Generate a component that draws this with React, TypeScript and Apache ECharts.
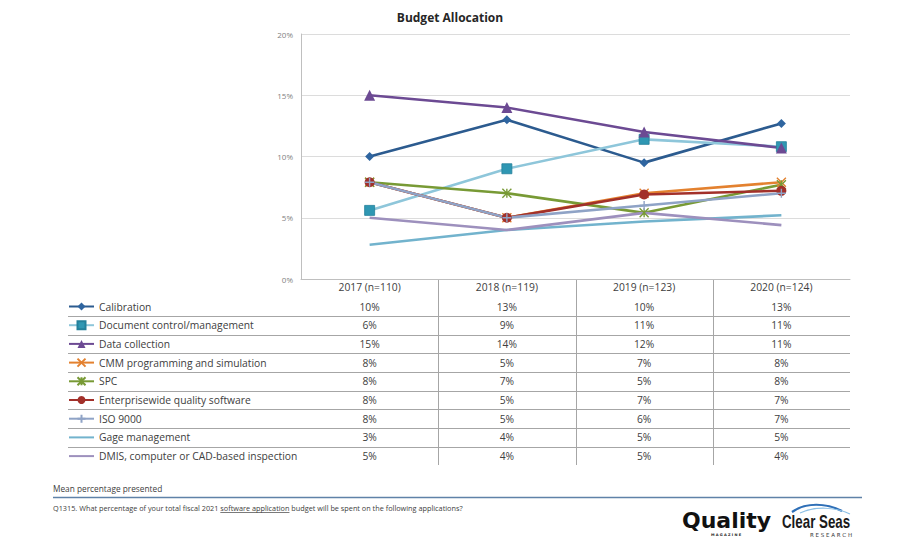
import React, { useEffect, useRef } from 'react';
import * as echarts from 'echarts';

const categories = ['2017 (n=110)', '2018 (n=119)', '2019 (n=123)', '2020 (n=124)'];
const yTicks = [0, 5, 10, 15, 20];

const seriesNames = [
  'Calibration',
  'Document control/management',
  'Data collection',
  'CMM programming and simulation',
  'SPC',
  'Enterprisewide quality software',
  'ISO 9000',
  'Gage management',
  'DMIS, computer or CAD-based inspection',
];

const calibration = [10.0, 13.0, 9.5, 12.7];
const documentControl = [5.6, 9.0, 11.4, 10.8];
const dataCollection = [15.0, 14.0, 12.0, 10.7];
const cmmProgramming = [7.9, 5.0, 7.0, 7.9];
const spc = [7.9, 7.0, 5.4, 7.7];
const enterpriseQuality = [7.9, 5.0, 6.9, 7.2];
const iso9000 = [7.9, 5.0, 6.0, 7.0];
const gageManagement = [2.8, 4.0, 4.7, 5.2];
const dmisInspection = [5.0, 4.0, 5.4, 4.4];

const seriesData = [
  calibration,
  documentControl,
  dataCollection,
  cmmProgramming,
  spc,
  enterpriseQuality,
  iso9000,
  gageManagement,
  dmisInspection,
];

const lineColors = ['#2c5b8f', '#8ec6da', '#6c4a93', '#e3812f', '#789a35', '#a2302a', '#8fa3c6', '#72b3cd', '#9d90bd'];
const markerColors = ['#2f65a0', '#2f97b3', '#6c4a93', '#e3812f', '#789a35', '#a2302a', '#8fa3c6', '#72b3cd', '#9d90bd'];
const symbols = [
  'diamond',
  'rect',
  'triangle',
  'path://M0,0L10,10M10,0L0,10',
  'path://M0,0L10,10M10,0L0,10M5,0L5,10',
  'circle',
  'path://M5,0L5,10M0,5L10,5',
  'none',
  'none',
];
const symbolSizes = [9, 10, 11, 9, 9, 10, 9, 0, 0];

const FONT = '"Open Sans", "Noto Sans", sans-serif';
const GRID_LEFT = 301;
const GRID_RIGHT = 850;
const GRID_TOP = 34;
const GRID_BOTTOM = 279;
const ROW_FIRST = 306.5;
const ROW_H = 18.7;
const TABLE_BOTTOM = 465;
const TABLE_FONT = 10.3;

export default function App() {
  const ref = useRef<HTMLDivElement>(null);
  useEffect(() => {
    document.body.style.margin = '0';
    const chart = echarts.init(ref.current!, null, { renderer: 'svg' });
    const series = seriesData.map((d, i) => {
      const isPath = symbols[i].startsWith('path://');
      return {
        name: seriesNames[i],
        type: 'line',
        data: d,
        symbol: symbols[i],
        symbolSize: symbolSizes[i],
        showSymbol: symbols[i] !== 'none',
        lineStyle: { color: lineColors[i], width: 2.6 },
        itemStyle: {
          color: markerColors[i],
          borderColor: isPath ? markerColors[i] : i === 1 ? '#23809b' : markerColors[i],
          borderWidth: isPath ? 1.4 : i === 1 ? 0.8 : 0,
        },
        emphasis: { disabled: true },
      };
    });
    chart.setOption({
      animation: false,
      title: {
        text: 'Budget Allocation',
        left: 'center',
        top: 6,
        textStyle: { fontSize: 12, fontWeight: 'bold', color: '#262626', fontFamily: FONT },
      },
      grid: { left: GRID_LEFT, right: 900 - GRID_RIGHT, top: GRID_TOP, bottom: 550 - GRID_BOTTOM },
      legend: {
        orient: 'vertical',
        left: 68,
        top: ROW_FIRST - 5,
        padding: 0,
        itemWidth: 25,
        itemHeight: 10,
        itemGap: ROW_H - 10,
        data: seriesNames.map((n, i) => (symbols[i] === 'none' ? { name: n, itemStyle: { opacity: 0 } } : { name: n })),
        textStyle: { fontSize: TABLE_FONT, color: '#404040', fontFamily: FONT, lineHeight: 10 },
      },
      xAxis: {
        type: 'category',
        data: categories,
        boundaryGap: true,
        axisLine: { show: true, lineStyle: { color: '#bfbfbf', width: 1 } },
        axisTick: { show: false },
        axisLabel: { margin: 3, fontSize: TABLE_FONT, color: '#404040', fontFamily: FONT },
        splitLine: { show: false },
      },
      yAxis: {
        type: 'value',
        min: yTicks[0],
        max: yTicks[yTicks.length - 1],
        interval: 5,
        axisLine: { show: true, lineStyle: { color: '#bfbfbf', width: 1 } },
        axisTick: { show: false },
        axisLabel: { formatter: '{value}%', fontSize: 8, color: '#7f7f7f', margin: 8, fontFamily: FONT },
        splitLine: { lineStyle: { color: '#dcdcdc', width: 1 } },
      },
      series,
    });

    const xs = categories.map((_, j) => chart.convertToPixel({ xAxisIndex: 0 }, j) as number);
    const step = xs.length > 1 ? xs[1] - xs[0] : 137;
    const graphics: any[] = [];
    for (let j = 1; j < xs.length; j++) {
      const x = Math.round(xs[j] - step / 2) + 0.5;
      graphics.push({
        type: 'line',
        silent: true,
        shape: { x1: x, y1: GRID_BOTTOM, x2: x, y2: TABLE_BOTTOM },
        style: { stroke: '#a6a6a6', lineWidth: 1 },
      });
    }
    for (let i = 0; i < seriesNames.length - 1; i++) {
      const y = Math.round(ROW_FIRST + ROW_H * i + ROW_H / 2) + 0.5;
      graphics.push({
        type: 'line',
        silent: true,
        shape: { x1: 68, y1: y, x2: GRID_RIGHT, y2: y },
        style: { stroke: '#a6a6a6', lineWidth: 1 },
      });
    }
    seriesData.forEach((row, i) => {
      row.forEach((v, j) => {
        graphics.push({
          type: 'text',
          silent: true,
          x: xs[j],
          y: ROW_FIRST + ROW_H * i,
          style: {
            text: `${Math.round(v)}%`,
            fontSize: TABLE_FONT,
            fontFamily: FONT,
            fill: '#404040',
            textAlign: 'center',
            textVerticalAlign: 'middle',
          },
        });
      });
    });

    graphics.push({
      type: 'text',
      silent: true,
      x: 53,
      y: 488,
      style: { text: 'Mean percentage presented', fontSize: 8.3, fontFamily: FONT, fill: '#404040', textVerticalAlign: 'middle' },
    });
    graphics.push({
      type: 'line',
      silent: true,
      shape: { x1: 53, y1: 497.5, x2: 862, y2: 497.5 },
      style: { stroke: '#5f82a8', lineWidth: 1.5 },
    });
    const qParts = [
      'Q1315. What percentage of your total fiscal 2021 ',
      'software application',
      ' budget will be spent on the following applications?',
    ];
    const qFontSize = 7.3;
    const ctx = document.createElement('canvas').getContext('2d')!;
    ctx.font = `${qFontSize}px "Open Sans"`;
    let qx = 53;
    qParts.forEach((t, k) => {
      const w = ctx.measureText(t).width;
      graphics.push({
        type: 'text',
        silent: true,
        x: qx,
        y: 508,
        style: { text: t, fontSize: qFontSize, fontFamily: FONT, fill: '#404040', textVerticalAlign: 'middle' },
      });
      if (k === 1) {
        graphics.push({
          type: 'line',
          silent: true,
          shape: { x1: qx, y1: 512.5, x2: qx + w, y2: 512.5 },
          style: { stroke: '#404040', lineWidth: 0.7 },
        });
      }
      qx += w;
    });

    graphics.push({
      type: 'text',
      silent: true,
      x: 682,
      y: 520,
      style: {
        text: 'Quality',
        fontSize: 22,
        fontWeight: 900,
        fontFamily: '"DejaVu Sans", sans-serif',
        fill: '#111111',
        textVerticalAlign: 'middle',
      },
    });
    graphics.push({
      type: 'text',
      silent: true,
      x: 726,
      y: 535,
      style: {
        text: 'M A G A Z I N E',
        fontSize: 3.6,
        fontFamily: '"DejaVu Sans", sans-serif',
        fontWeight: 'bold',
        fill: '#222222',
        textAlign: 'center',
        textVerticalAlign: 'middle',
      },
    });
    graphics.push({
      type: 'bezierCurve',
      silent: true,
      shape: { x1: 792, y1: 512, x2: 842, y2: 511, cpx1: 806, cpy1: 502, cpx2: 826, cpy2: 503 },
      style: { stroke: '#2e6fb7', lineWidth: 2.2, fill: 'none' },
    });
    graphics.push({
      type: 'bezierCurve',
      silent: true,
      shape: { x1: 800, y1: 513, x2: 850, y2: 514, cpx1: 815, cpy1: 506, cpx2: 835, cpy2: 507 },
      style: { stroke: '#8cc0e6', lineWidth: 1.2, fill: 'none' },
    });
    graphics.push({
      type: 'text',
      silent: true,
      x: 782,
      y: 522,
      scaleX: 0.74,
      style: {
        text: 'Clear Seas',
        fontSize: 18,
        fontWeight: 'bold',
        fontFamily: '"Liberation Sans", sans-serif',
        fill: '#1a1a1a',
        textVerticalAlign: 'middle',
      },
    });
    graphics.push({
      type: 'text',
      silent: true,
      x: 831,
      y: 535,
      style: {
        text: 'R E S E A R C H',
        fontSize: 5.5,
        fontFamily: '"DejaVu Sans", sans-serif',
        fill: '#333333',
        textAlign: 'center',
        textVerticalAlign: 'middle',
      },
    });

    chart.setOption({ graphic: graphics });
    return () => chart.dispose();
  }, []);
  return <div ref={ref} style={{ width: 900, height: 550 }} />;
}
